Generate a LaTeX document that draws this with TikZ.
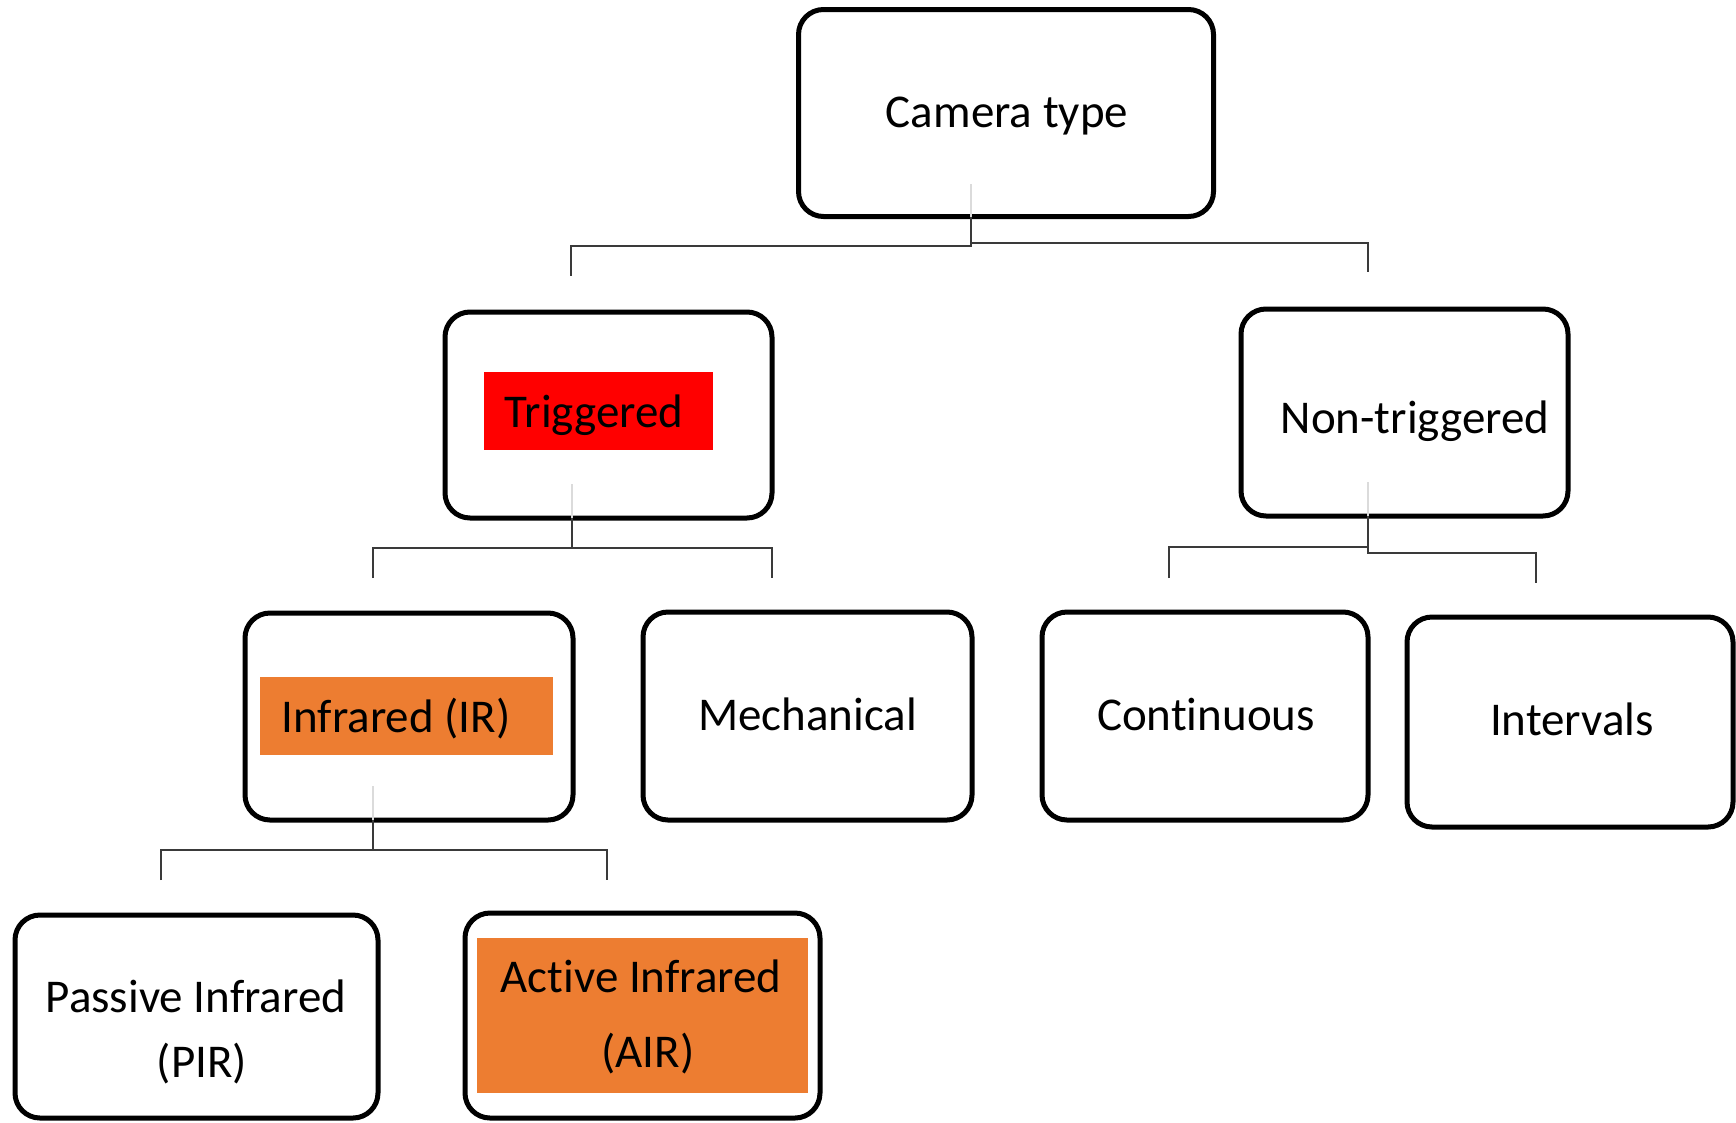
\documentclass[tikz,border=0pt]{standalone}
\usepackage{fontspec}
\setmainfont{Carlito}[Ligatures=NoCommon]
\definecolor{hired}{HTML}{FF0000}
\definecolor{hiorange}{HTML}{ED7D31}
\definecolor{linkgray}{HTML}{3A3A3A}
\begin{document}
\begin{tikzpicture}[x=1pt,y=-1pt,
  box/.style={draw=black, line width=5pt, rounded corners=25pt, inner sep=0pt, outer sep=0pt},
  hl/.style={inner sep=0pt, outer sep=0pt},
  txt/.style={anchor=base, inner sep=0pt, outer sep=0pt, text=black, font=\fontsize{47}{56}\selectfont},
  link/.style={draw=linkgray, line width=2.5pt},
  stub/.style={draw=black!14, line width=1.5pt}]

\useasboundingbox[fill=white] (0,0) rectangle (1736,1122);

% boxes
\node[box, minimum width=415pt, minimum height=207pt] (ct)    at (1006,113)    {};
\node[box, minimum width=327pt, minimum height=206pt] (trig)  at (608.5,415)   {};
\node[box, minimum width=327pt, minimum height=207pt] (ntrig) at (1404.5,412.5){};
\node[box, minimum width=328pt, minimum height=207pt] (ir)    at (409,716.5)   {};
\node[box, minimum width=329pt, minimum height=208pt] (mech)  at (807.5,716)   {};
\node[box, minimum width=326pt, minimum height=208pt] (cont)  at (1205,716)    {};
\node[box, minimum width=326pt, minimum height=210pt] (intv)  at (1570,722)    {};
\node[box, minimum width=363pt, minimum height=203pt] (pir)   at (196.5,1016.5){};
\node[box, minimum width=355pt, minimum height=205pt] (air)   at (642.5,1015.5){};

% highlight fills behind labels
\node[hl, fill=hired,    minimum width=229pt, minimum height=78pt]  (trigfill) at (598.5,411)   {};
\node[hl, fill=hiorange, minimum width=293pt, minimum height=78pt]  (irfill)   at (406.5,716)   {};
\node[hl, fill=hiorange, minimum width=331pt, minimum height=155pt] (airfill)  at (642.5,1015.5){};

% labels
\node[txt] (cttxt)   at (1007,127)  {Camera type};
\node[txt] (trigtxt) at (594,427)   {Triggered};
\node[txt] (ntrigtxt)at (1415,433)  {Non-triggered};
\node[txt] (irtxt)   at (396,732)   {Infrared (IR)};
\node[txt] (mechtxt) at (807.5,730) {Mechanical};
\node[txt] (conttxt) at (1206,730)  {Continuous};
\node[txt] (intvtxt) at (1572,735)  {Intervals};
\node[txt] (pirtxta) at (196,1012)  {Passive Infrared};
\node[txt] (pirtxtb) at (202,1077)  {(PIR)};
\node[txt] (airtxta) at (641,992)   {Active Infrared};
\node[txt] (airtxtb) at (648,1067)  {(AIR)};

% junctions and drop ends of the connectors
\coordinate (ctJ)      at (971,246);
\coordinate (ctJr)     at (971,243);
\coordinate (trigTop)  at (571,276);
\coordinate (ntrigTop) at (1368,272);

\coordinate (trigJ)    at (572,548);
\coordinate (irTop)    at (373,578);
\coordinate (mechTop)  at (772,578);

\coordinate (irJ)      at (373,850);
\coordinate (pirTop)   at (161,880);
\coordinate (airTop)   at (607,880);

\coordinate (ntJ)      at (1368,553);
\coordinate (ntJl)     at (1368,547);
\coordinate (contTop)  at (1169,578);
\coordinate (intvTop)  at (1536,583);

% faint stems inside the parent boxes
\draw[stub] (ct.south -| ctJ)      -- ++(0,-33);
\draw[stub] (trig.south -| trigJ)  -- ++(0,-34);
\draw[stub] (ir.south -| irJ)      -- ++(0,-34);
\draw[stub] (ntrig.south -| ntJ)   -- ++(0,-34);

% Camera type -> Triggered / Non-triggered
\draw[link] (ct.south -| ctJ) -- (ctJ) -| (trigTop);
\draw[link] (ctJr) -| (ntrigTop);

% Triggered -> Infrared / Mechanical
\draw[link] (trig.south -| trigJ) -- (trigJ);
\draw[link] (irTop) |- (trigJ) -| (mechTop);

% Infrared -> PIR / AIR
\draw[link] (ir.south -| irJ) -- (irJ);
\draw[link] (pirTop) |- (irJ) -| (airTop);

% Non-triggered -> Continuous / Intervals
\draw[link] (ntrig.south -| ntJ) -- (ntJ) -| (intvTop);
\draw[link] (contTop) |- (ntJl);
\end{tikzpicture}
\end{document}
